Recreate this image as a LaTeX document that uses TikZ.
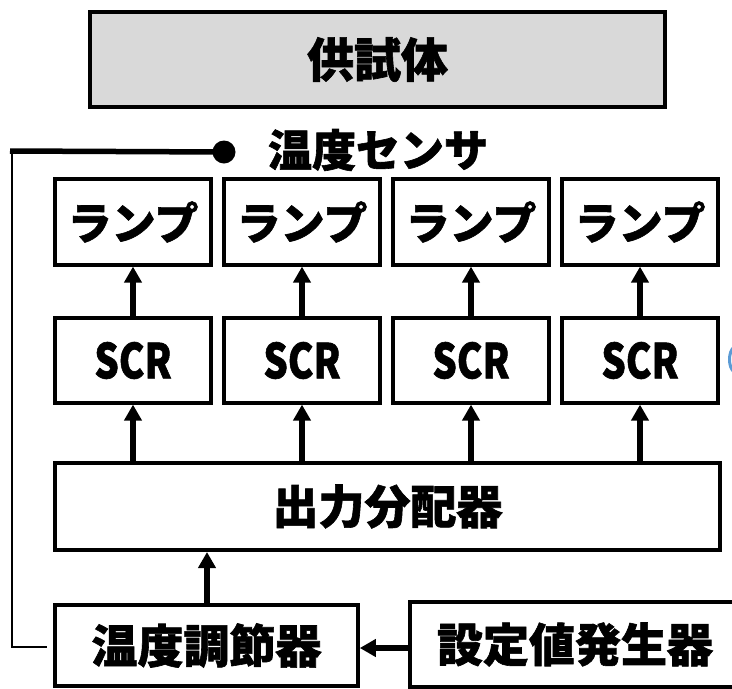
\documentclass[tikz,border=0pt]{standalone}
\usepackage{fontspec}
\newfontfamily\jp{Noto Sans CJK JP}[BoldFeatures={FakeBold=1.3}]
\usetikzlibrary{arrows.meta}
\definecolor{spgray}{RGB}{217,217,217}
\definecolor{arcblue}{RGB}{91,155,213}
\begin{document}
\begin{tikzpicture}[x=1pt,y=-1pt,
  box/.style={draw, line width=3.2pt, rectangle, inner sep=0pt, fill=white,
    font=\jp\bfseries\fontsize{46}{46}\selectfont},
  lampbox/.style={box, minimum width=156pt, minimum height=86pt, font=\jp\bfseries\fontsize{44}{44}\selectfont},
  scrbox/.style={box, minimum width=156pt, minimum height=85pt, font=\jp\bfseries\fontsize{48}{48}\selectfont},
  arr/.style={line width=6pt, -{Triangle[width=17pt,length=16pt]}},
  lbl/.style={font=\jp\bfseries\fontsize{44}{44}\selectfont, inner sep=0pt}
]
\clip (0,0) rectangle (732,689);
\fill[white] (0,0) rectangle (732,689);

% specimen
\node[box, fill=spgray, line width=4.5pt, minimum width=575pt, minimum height=95pt,
  font=\jp\bfseries\fontsize{47}{47}\selectfont] (spec) at (377.5,59.5) {供試体};

% sensor
\node[circle, fill=black, minimum size=23pt, inner sep=0pt] (dot) at (224,152) {};
\node[lbl] (sensor) at (378,150) {温度センサ};

% lamps and SCRs
\foreach \i in {1,2,3,4}{
  \node[lampbox] (lamp\i) at ({133+169*(\i-1)},222) {ランプ};
  \node[scrbox] (scr\i) at ({133+169*(\i-1)},360.5) {\scalebox{0.8}[1]{SCR}};
}

% distributor
\node[box, line width=4pt, minimum width=665pt, minimum height=87pt] (dist) at (387.5,506.5) {出力分配器};

% controller and setpoint generator
\node[box, line width=3.6pt, minimum width=303pt, minimum height=81pt] (ctrl) at (206.5,645.5) {温度調節器};
\node[box, line width=3.6pt, minimum width=330pt, minimum height=85pt] (setg) at (575,644.5) {設定値発生器};

% arrows
\foreach \i in {1,2,3,4}{
  \draw[arr] (scr\i.north) -- (lamp\i.south);
  \draw[arr] (scr\i.south |- dist.north) -- (scr\i.south);
}
\draw[arr] (ctrl.north -| 207,0) -- (dist.south -| 207,0);
\draw[arr] (setg.west |- 0,648) -- (ctrl.east |- 0,648);

% feedback line
\coordinate (fbcorner) at (12,151);
\coordinate (fbbottom) at (12,647);
\coordinate (fbend) at (47,647);
\draw[line width=5.5pt] (10,151) -- (dot.center);
\draw[line width=2pt] (fbcorner) -- (fbbottom) -- (fbend);

% partial blue mark at right edge
\draw[arcblue, line width=3pt] (734,347) .. controls (728,352) and (728,367) .. (734,372);
\end{tikzpicture}
\end{document}
